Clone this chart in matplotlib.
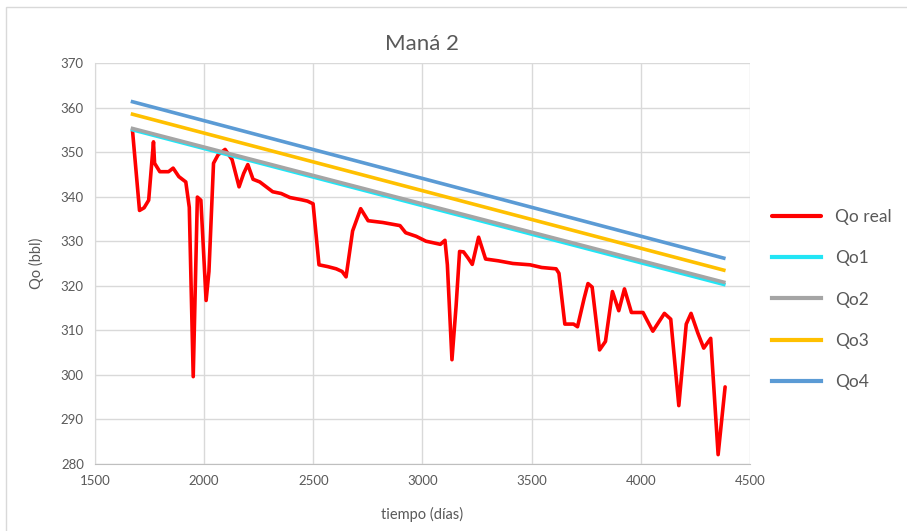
import numpy as np
import matplotlib.pyplot as plt
from matplotlib.patches import Rectangle

plt.rcParams['font.family'] = ['Lato', 'DejaVu Sans']

# Qo real
t_real = [1672, 1704, 1725, 1746, 1768, 1773, 1797, 1837, 1858, 1884, 1916, 1932,
          1950, 1969, 1985, 2009, 2022, 2043, 2064, 2096, 2128, 2160, 2181, 2200,
          2224, 2255, 2314, 2353, 2393, 2446, 2473, 2499, 2526, 2566, 2605, 2632,
          2650, 2680, 2717, 2751, 2818, 2897, 2923, 2971, 3016, 3082, 3103, 3114,
          3135, 3154, 3170, 3188, 3209, 3228, 3257, 3289, 3347, 3414, 3493, 3546,
          3612, 3625, 3652, 3692, 3710, 3740, 3758, 3777, 3811, 3838, 3870, 3899,
          3925, 3957, 4010, 4055, 4108, 4137, 4174, 4208, 4230, 4261, 4288, 4320,
          4354, 4386]
qo_real = [354.8, 336.9, 337.5, 339.2, 352.3, 347.5, 345.6, 345.6, 346.4, 344.5, 343.3, 337.6,
           299.6, 339.9, 339.2, 316.7, 323.2, 347.5, 349.4, 350.6, 348.3, 342.2, 345.2, 347.2,
           343.9, 343.3, 341.1, 340.7, 339.8, 339.3, 339.0, 338.4, 324.7, 324.3, 323.8, 323.2,
           322.0, 332.3, 337.3, 334.6, 334.2, 333.5, 331.9, 331.1, 330.0, 329.3, 330.2, 324.7,
           303.4, 315.5, 327.7, 327.6, 326.2, 324.8, 330.9, 326.0, 325.6, 325.0, 324.7, 324.1,
           323.8, 322.8, 311.4, 311.4, 310.8, 317.1, 320.5, 319.7, 305.6, 307.5, 318.7, 314.4,
           319.3, 314.0, 314.0, 309.8, 313.8, 312.5, 293.1, 311.4, 313.8, 309.4, 306.0, 308.2,
           282.1, 297.3]

# model lines (start / end)
t_model = [1672, 4380]
qo1 = [355.0, 320.3]
qo2 = [355.3, 320.8]
qo3 = [358.5, 323.5]
qo4 = [361.3, 326.2]

fig = plt.figure(figsize=(9.07, 5.31), dpi=100)
ax = fig.add_axes([0.1047, 0.1262, 0.7222, 0.7552])

ax.plot(t_real, qo_real, color='#ff0000', lw=2.6, label='Qo real',
        solid_joinstyle='round', solid_capstyle='round')
ax.plot(t_model, qo1, color='#22e5f5', lw=2.6, label='Qo1')
ax.plot(t_model, qo2, color='#a5a5a5', lw=2.6, label='Qo2')
ax.plot(t_model, qo3, color='#ffc000', lw=2.6, label='Qo3')
ax.plot(t_model, qo4, color='#5b9bd5', lw=2.6, label='Qo4')

ax.set_xlim(1500, 4500)
ax.set_ylim(280, 370)
ax.set_xticks(range(1500, 4501, 500))
ax.set_yticks(range(280, 371, 10))
ax.grid(True, color='#d9d9d9', lw=1)
ax.set_axisbelow(True)
for s in ax.spines.values():
    s.set_visible(False)
ax.spines['left'].set_visible(True)
ax.spines['bottom'].set_visible(True)
ax.spines['left'].set_color('#d9d9d9')
ax.spines['bottom'].set_color('#bfbfbf')
ax.tick_params(length=0, labelsize=9.5, colors='#595959', pad=8)

ax.set_title('Maná 2', fontsize=16, color='#595959', pad=9)
ax.set_xlabel('tiempo (días)', fontsize=10.5, color='#595959', labelpad=14)
ax.set_ylabel('Qo (bbl)', fontsize=10.5, color='#595959', labelpad=12)

leg = ax.legend(loc='center left', bbox_to_anchor=(1.01, 0.41), frameon=False,
                fontsize=12.5, handlelength=2.8, labelspacing=1.45, labelcolor='#595959')
for h in leg.get_lines():
    h.set_linewidth(3)

fig.patches.append(Rectangle((0.007, -0.01), 1.1, 0.997, transform=fig.transFigure,
                             fill=False, edgecolor='#d9d9d9', lw=1))

fig.savefig('out.png', dpi=100)
